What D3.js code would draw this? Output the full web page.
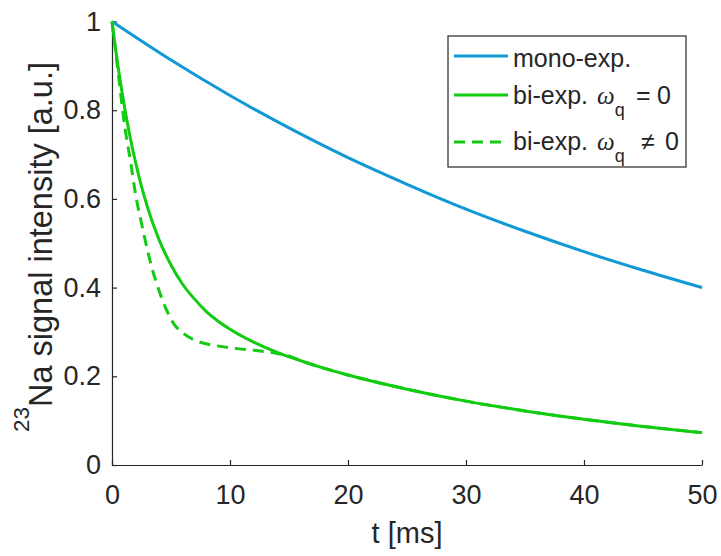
<!DOCTYPE html>
<html>
<head>
<meta charset="utf-8">
<script src="https://cdn.jsdelivr.net/npm/d3@7"></script>
<style>
  body { margin: 0; background: #fff; }
  text { font-family: "Liberation Sans", Arial, Helvetica, sans-serif; fill: #262626; }
</style>
</head>
<body>
<svg id="chart" width="721" height="556"></svg>
<script>
// Mono-exponential decay
const monoT = [0, 5, 10, 15, 20, 25, 30, 35, 40, 45, 50];
const monoV = [1, 0.913, 0.833, 0.760, 0.693, 0.633, 0.577, 0.527, 0.481, 0.439, 0.400];

// Bi-exponential decay, omega_q = 0
const biT = [0, 0.5, 1, 1.5, 2, 2.5, 3, 4, 5, 6, 7, 8, 9, 10, 12, 14, 16, 18, 20, 25, 30, 35, 40, 45, 50];
const biV = [1, 0.901, 0.817, 0.744, 0.682, 0.628, 0.582, 0.507, 0.451, 0.407, 0.374, 0.346, 0.324, 0.306,
             0.277, 0.254, 0.235, 0.218, 0.203, 0.171, 0.144, 0.122, 0.103, 0.087, 0.073];

// Bi-exponential decay, omega_q != 0
const dashT = [0, 0.5, 1.1, 1.6, 2, 2.5, 3, 3.4, 3.8, 4.5, 5.3, 6, 6.8, 7.7, 8.6, 10.4, 12.3, 14.1, 15.1,
               16, 18, 20, 25, 30, 35, 40, 45, 50];
const dashV = [1, 0.89, 0.76, 0.68, 0.61, 0.545, 0.485, 0.443, 0.408, 0.357, 0.316, 0.298, 0.284, 0.275, 0.270,
               0.263, 0.258, 0.251, 0.245, 0.235, 0.218, 0.203, 0.171, 0.144, 0.122, 0.103, 0.087, 0.073];

const xTicks = [0, 10, 20, 30, 40, 50];
const yTicks = [0, 0.2, 0.4, 0.6, 0.8, 1];
const yTickLabels = ["0", "0.2", "0.4", "0.6", "0.8", "1"];

const BLUE = "#1199d6";
const GREEN = "#11cc11";
const INK = "#262626";

const svg = d3.select("#chart");
svg.append("rect").attr("width", 721).attr("height", 556).attr("fill", "#fff");

const x = d3.scaleLinear().domain([0, 50]).range([112, 702]);
const y = d3.scaleLinear().domain([0, 1]).range([465, 21.5]);

// Axes: left and bottom only, ticks pointing inward
const xAxis = d3.axisBottom(x).tickValues(xTicks).tickFormat(d3.format("d"))
  .tickSizeInner(-5).tickSizeOuter(0).tickPadding(20);
const yAxis = d3.axisLeft(y).tickValues(yTicks).tickFormat((d, i) => yTickLabels[i])
  .tickSizeInner(-5).tickSizeOuter(0).tickPadding(11);

const gx = svg.append("g").attr("transform", `translate(0,${y(0)})`).call(xAxis);
const gy = svg.append("g").attr("transform", `translate(${x(0)},0)`).call(yAxis);
[gx, gy].forEach(g => {
  g.select(".domain").attr("stroke", INK).attr("stroke-width", 1.2);
  g.selectAll(".tick line").attr("stroke", INK).attr("stroke-width", 1.2);
  g.selectAll(".tick text").attr("fill", INK).style("font-size", "27px")
    .style("font-family", '"Liberation Sans", Arial, sans-serif');
});

// Curves
const line = d3.line().x(d => x(d[0])).y(d => y(d[1])).curve(d3.curveMonotoneX);
const zip = (a, b) => a.map((t, i) => [t, b[i]]);

svg.append("path").datum(zip(monoT, monoV)).attr("d", line)
  .attr("fill", "none").attr("stroke", BLUE).attr("stroke-width", 3);
svg.append("path").datum(zip(biT, biV)).attr("d", line)
  .attr("fill", "none").attr("stroke", GREEN).attr("stroke-width", 3);
svg.append("path").datum(zip(dashT, dashV)).attr("d", line)
  .attr("fill", "none").attr("stroke", GREEN).attr("stroke-width", 3)
  .attr("stroke-dasharray", "11,7");

// Axis labels
svg.append("text").attr("x", 407).attr("y", 543).attr("text-anchor", "middle")
  .style("font-size", "29px").text("t [ms]");

// Y label: rotated, laid out from its measured length so it spans 62..432 px
const yl = svg.append("text").attr("text-anchor", "start").style("font-size", "29px");
yl.append("tspan").style("font-size", "20px").attr("dy", -23).text("23");
yl.append("tspan").attr("dy", 23).text("Na signal intensity [a.u.]");
const yLabelTop = 62, yLabelBottom = 432, yLabelBaseX = 52;
let bb = yl.node().getBBox();
const fitScale = (yLabelBottom - yLabelTop) / bb.width;
yl.style("font-size", (29 * fitScale) + "px");
yl.select("tspan").style("font-size", (20 * fitScale) + "px");
bb = yl.node().getBBox();
yl.attr("transform", `translate(${yLabelBaseX},${yLabelBottom + bb.x}) rotate(-90)`);

// Legend
const legend = svg.append("g");
legend.append("rect").attr("x", 448).attr("y", 36).attr("width", 238).attr("height", 131)
  .attr("fill", "#fff").attr("stroke", INK).attr("stroke-width", 1.2);

const legendRows = [
  { color: BLUE, dash: null, lineY: 56, baseY: 67, text: "mono-exp.", op: null },
  { color: GREEN, dash: null, lineY: 95, baseY: 104, text: "bi-exp. ", op: "=" },
  { color: GREEN, dash: "11,7", lineY: 142, baseY: 150, text: "bi-exp. ", op: "\u2260" }
];

legendRows.forEach(r => {
  legend.append("line").attr("x1", 454).attr("x2", 508).attr("y1", r.lineY).attr("y2", r.lineY)
    .attr("stroke", r.color).attr("stroke-width", 3).attr("stroke-dasharray", r.dash);
  const t = legend.append("text").attr("x", 513).attr("y", r.baseY).style("font-size", "25px");
  t.append("tspan").text(r.text);
  if (r.op) {
    t.append("tspan").attr("x", 597).style("font-family", '"Liberation Serif", "DejaVu Serif", serif')
      .style("font-style", "italic").text("\u03c9");
    t.append("tspan").attr("dy", 12).style("font-size", "18px").text("q");
    t.append("tspan").attr("x", r.op === "=" ? 636 : 641).attr("dy", -12).text(r.op);
    t.append("tspan").attr("x", r.op === "=" ? 657 : 665).text("0");
  }
});
</script>
</body>
</html>
